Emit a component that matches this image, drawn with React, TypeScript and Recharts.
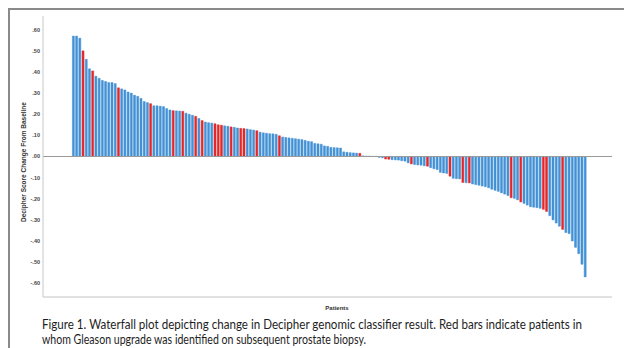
import React from 'react';
import { BarChart, Bar, XAxis, YAxis, Cell, ReferenceLine } from 'recharts';

// change in classifier score per patient, sorted high to low
const scoreChange = [
  0.57, 0.57, 0.56, 0.50, 0.46, 0.415, 0.405, 0.38, 0.37, 0.36,
  0.355, 0.35, 0.35, 0.345, 0.325, 0.32, 0.315, 0.305, 0.30, 0.29,
  0.285, 0.275, 0.26, 0.255, 0.25, 0.24, 0.24, 0.238, 0.236, 0.227,
  0.22, 0.217, 0.216, 0.215, 0.214, 0.205, 0.20, 0.195, 0.19, 0.18,
  0.17, 0.163, 0.16, 0.158, 0.155, 0.15, 0.148, 0.145, 0.143, 0.14,
  0.138, 0.135, 0.133, 0.132, 0.13, 0.127, 0.125, 0.122, 0.115, 0.112,
  0.11, 0.108, 0.107, 0.105, 0.098, 0.092, 0.09, 0.088, 0.086, 0.084,
  0.082, 0.08, 0.076, 0.072, 0.07, 0.062, 0.06, 0.058, 0.05, 0.048,
  0.043, 0.042, 0.041, 0.04, 0.022, 0.02, 0.018, 0.017, 0.016, 0.015,
  0.003, 0.002, 0.002, 0.001, 0.001, -0.004, -0.006, -0.012, -0.013, -0.015,
  -0.016, -0.017, -0.02, -0.022, -0.03, -0.035, -0.038, -0.04, -0.041, -0.044,
  -0.046, -0.053, -0.058, -0.062, -0.075, -0.078, -0.08, -0.093, -0.103, -0.105,
  -0.106, -0.123, -0.124, -0.125, -0.13, -0.133, -0.136, -0.14, -0.143, -0.148,
  -0.155, -0.16, -0.165, -0.172, -0.178, -0.185, -0.195, -0.198, -0.205, -0.215,
  -0.222, -0.23, -0.238, -0.24, -0.242, -0.245, -0.25, -0.26, -0.28, -0.30,
  -0.315, -0.33, -0.345, -0.36, -0.365, -0.40, -0.43, -0.46, -0.51, -0.57,
];

// positions (0-based) of patients with a Gleason upgrade on later biopsy
const upgradedPatients = [
  3, 6, 14, 24, 31, 34, 38, 40, 44, 45, 46, 49, 52, 53, 57, 64,
  89, 97, 98, 105, 110, 117, 121, 123, 136, 139, 146, 147, 152,
];

const yTicks = [0.6, 0.5, 0.4, 0.3, 0.2, 0.1, 0, -0.1, -0.2, -0.3, -0.4, -0.5, -0.6];

const BLUE = '#4391d5';
const RED = '#e3282a';

const data = scoreChange.map((value, i) => ({
  id: i + 1,
  value,
  upgraded: upgradedPatients.includes(i),
}));

// SPSS style labels: .60, .00, -.10
const fmtTick = (v: number) => {
  const s = Math.abs(v).toFixed(2).replace(/^0/, '');
  return v < 0 ? '-' + s : s;
};

export default function App() {
  return (
    <div
      style={{
        position: 'fixed',
        top: 8,
        left: 8,
        width: 616,
        height: 340,
        boxSizing: 'border-box',
        borderTop: '2px solid #8a8a8a',
        borderLeft: '2px solid #8a8a8a',
        background: '#fff',
      }}
    >
      <BarChart
        width={614}
        height={310}
        data={data}
        margin={{ top: 6, right: 12, bottom: 3, left: 0 }}
        barCategoryGap="12%"
      >
        <XAxis
          dataKey="id"
          type="category"
          tick={false}
          tickLine={false}
          axisLine={{ stroke: '#c4c4c4' }}
          height={20}
          padding={{ left: 29, right: 25 }}
        />
        <YAxis
          width={33}
          domain={[-0.665, 0.665]}
          ticks={yTicks}
          tickFormatter={fmtTick}
          tickLine={false}
          tickSize={0}
          tickMargin={3}
          interval={0}
          axisLine={{ stroke: '#c8c8c8' }}
          tick={{ fontSize: 5.5, fill: '#444', fontFamily: 'Liberation Sans', fontWeight: 'bold' }}
        />
        <ReferenceLine y={0} stroke="#9a9a9a" strokeWidth={1} />
        <Bar dataKey="value" isAnimationActive={false}>
          {data.map((d) => (
            <Cell
              key={d.id}
              fill={d.upgraded ? RED : BLUE}
              stroke={d.upgraded ? RED : BLUE}
              strokeWidth={0.5}
            />
          ))}
        </Bar>
      </BarChart>

      <svg
        width={614}
        height={338}
        style={{ position: 'absolute', left: 0, top: 0, pointerEvents: 'none', overflow: 'visible' }}
      >
        <text
          x={14}
          y={152}
          transform="rotate(-90 14 152)"
          textAnchor="middle"
          dominantBaseline="middle"
          fontFamily="Liberation Sans"
          fontWeight="bold"
          fontSize={6.5}
          fill="#333"
        >
          Decipher Score Change From Baseline
        </text>
        <text
          x={327}
          y={300}
          textAnchor="middle"
          fontFamily="Liberation Sans"
          fontWeight="bold"
          fontSize={6}
          fill="#333"
        >
          Patients
        </text>
        <text
          x={32}
          y={319}
          fontFamily="Lato"
          fontSize={12.5}
          fill="#1e1e1e"
          textLength={540}
          lengthAdjust="spacingAndGlyphs"
        >
          Figure 1. Waterfall plot depicting change in Decipher genomic classifier result. Red bars indicate patients in
        </text>
        <text
          x={32}
          y={334}
          fontFamily="Lato"
          fontSize={12.5}
          fill="#1e1e1e"
          textLength={324}
          lengthAdjust="spacingAndGlyphs"
        >
          whom Gleason upgrade was identified on subsequent prostate biopsy.
        </text>
      </svg>
    </div>
  );
}
